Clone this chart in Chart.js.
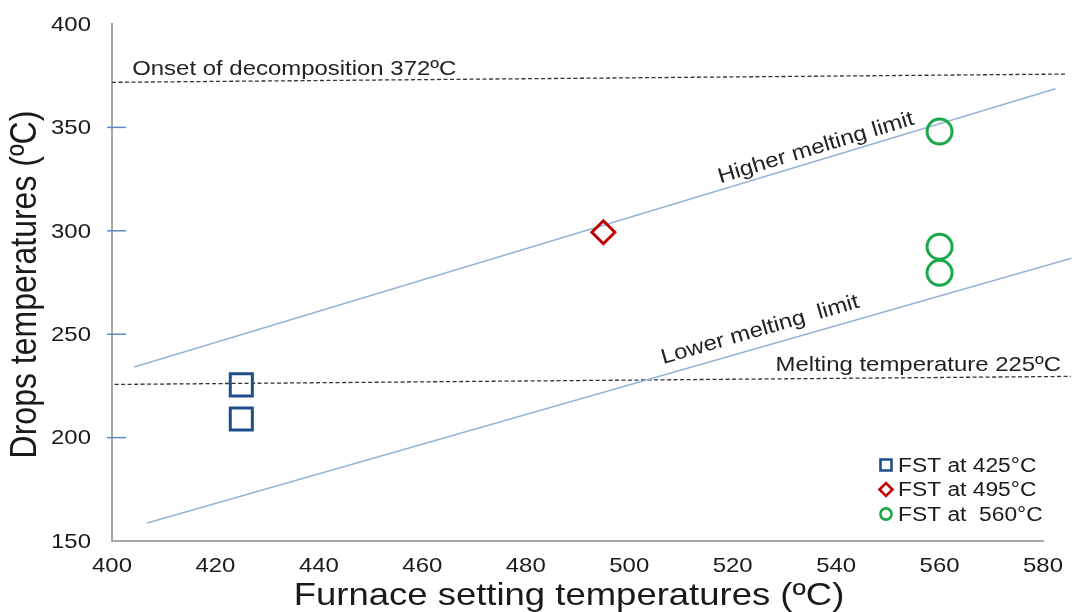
<!DOCTYPE html>
<html>
<head>
<meta charset="utf-8">
<script src="https://cdn.jsdelivr.net/npm/chart.js@4.4.1/dist/chart.umd.min.js"></script>
<style>
  html, body { margin: 0; padding: 0; background: #fff; }
  #wrap { width: 1076px; height: 612px; }
</style>
</head>
<body>
<div id="wrap"><canvas id="dropsChart" width="1076" height="612"></canvas></div>
<script>
// measured drops temperatures per furnace setting
const fst425X = [425, 425];
const fst425Y = [225.5, 209];
const fst495X = [495];
const fst495Y = [299.3];
const fst560X = [560, 560, 560];
const fst560Y = [348, 292.3, 279.7];

// melting limit lines and reference lines
const higherLimitX = [404.3, 582.4];
const higherLimitY = [234.1, 368.7];
const lowerLimitX = [406.8, 585.5];
const lowerLimitY = [158.7, 286.7];
const onsetX = [400, 584.5];
const onsetY = [371.8, 375.8];
const meltX = [400.5, 585.4];
const meltY = [225.7, 229.6];

const xTickMin = 400, xTickMax = 580, xTickStep = 20;
const yTickMin = 150, yTickMax = 400, yTickStep = 50;

const legendLabels = ['FST at 425°C', 'FST at 495°C', 'FST at  560°C'];

const pts = (xs, ys) => xs.map((x, i) => ({ x: x, y: ys[i] }));
const FONT = '"Liberation Sans", Arial, sans-serif';
const HS = 1.14;   // the original text is a little wide
const INK = '#1a1a1a';

function wideText(ctx, text, x, y, align, size, angle) {
    ctx.save();
    ctx.translate(x, y);
    if (angle) ctx.rotate(angle * Math.PI / 180);
    ctx.scale(HS, 1);
    ctx.font = size + 'px ' + FONT;
    ctx.textAlign = align;
    ctx.fillText(text, 0, 0);
    ctx.restore();
}

const lineStyle = {
    showLine: true, pointRadius: 0, borderColor: '#95b3d7', borderWidth: 1.6, clip: false
};
const dashStyle = {
    showLine: true, pointRadius: 0, borderColor: '#333', borderWidth: 1.3, borderDash: [4, 2.5], clip: false
};

// tick labels, axis titles and the small blue tick marks on the y axis
const axisText = {
    id: 'axisText',
    afterDraw(chart) {
        const ctx = chart.ctx, xs = chart.scales.x, ys = chart.scales.y, area = chart.chartArea;
        ctx.save();
        ctx.strokeStyle = '#5b8bc7';
        ctx.lineWidth = 1.5;
        ys.ticks.forEach(t => {
            if (t.value === yTickMin || t.value === yTickMax) return;
            const py = ys.getPixelForValue(t.value);
            ctx.beginPath();
            ctx.moveTo(area.left - 5, py);
            ctx.lineTo(area.left + 14, py);
            ctx.stroke();
        });
        ctx.fillStyle = INK;
        ctx.textBaseline = 'middle';
        ys.ticks.forEach(t => {
            wideText(ctx, String(t.value), area.left - 21, ys.getPixelForValue(t.value) + 1, 'right', 21);
        });
        xs.ticks.forEach(t => {
            wideText(ctx, String(t.value), xs.getPixelForValue(t.value), 566, 'center', 21);
        });
        ctx.textBaseline = 'alphabetic';
        wideText(ctx, 'Furnace setting temperatures (ºC)', 569, 605, 'center', 32);
        ctx.save();
        ctx.translate(36, (area.top + area.bottom) / 2 + 2);
        ctx.rotate(-Math.PI / 2);
        ctx.scale(1, HS);
        ctx.font = '32px ' + FONT;
        ctx.textAlign = 'center';
        ctx.fillText('Drops temperatures (ºC)', 0, 0);
        ctx.restore();
        ctx.restore();
    }
};

// text labels sitting on the chart, plus the legend
const notes = {
    id: 'notes',
    afterDatasetsDraw(chart) {
        const ctx = chart.ctx, xs = chart.scales.x, ys = chart.scales.y;
        ctx.save();
        ctx.fillStyle = '#222';
        ctx.textBaseline = 'alphabetic';
        wideText(ctx, 'Onset of decomposition 372ºC', xs.getPixelForValue(403.9), ys.getPixelForValue(375.3), 'left', 21);
        wideText(ctx, 'Melting temperature 225ºC', xs.getPixelForValue(528.3), ys.getPixelForValue(232.1), 'left', 21);
        ctx.textBaseline = 'middle';
        wideText(ctx, 'Higher melting limit', xs.getPixelForValue(536.1), ys.getPixelForValue(340), 'center', 21, -16.85);
        wideText(ctx, 'Lower melting  limit', xs.getPixelForValue(525.3), ys.getPixelForValue(252), 'center', 21, -16.1);

        // legend, bottom right inside the plot
        const lx = 886, ly0 = 465, step = 24.5;
        const sizes = { rect: 7.8, rectRot: 6.5, circle: 5.6 };
        chart.data.datasets.slice(0, 3).forEach((ds, i) => {
            const yy = ly0 + i * step;
            ctx.strokeStyle = ds.borderColor;
            ctx.fillStyle = 'rgba(0,0,0,0)';
            ctx.lineWidth = 2.6;
            Chart.helpers.drawPoint(ctx, {
                pointStyle: ds.pointStyle, radius: sizes[ds.pointStyle], borderWidth: 2.6
            }, lx, yy);
            ctx.fillStyle = INK;
            ctx.textBaseline = 'middle';
            wideText(ctx, legendLabels[i], lx + 12, yy + 1, 'left', 20);
        });
        ctx.restore();
    }
};

new Chart(document.getElementById('dropsChart'), {
    type: 'scatter',
    data: {
        datasets: [
            { label: legendLabels[0], data: pts(fst425X, fst425Y), pointStyle: 'rect', pointRadius: 15.6,
              borderColor: '#1f4e8c', backgroundColor: 'rgba(0,0,0,0)', borderWidth: 3, pointHoverRadius: 15.6 },
            { label: legendLabels[1], data: pts(fst495X, fst495Y), pointStyle: 'rectRot', pointRadius: 11.5,
              borderColor: '#c00000', backgroundColor: 'rgba(0,0,0,0)', borderWidth: 3, pointHoverRadius: 11.5 },
            { label: legendLabels[2], data: pts(fst560X, fst560Y), pointStyle: 'circle', pointRadius: 12.5,
              borderColor: '#1aa84a', backgroundColor: 'rgba(0,0,0,0)', borderWidth: 3, pointHoverRadius: 12.5 },
            Object.assign({ label: 'Higher melting limit', data: pts(higherLimitX, higherLimitY) }, lineStyle),
            Object.assign({ label: 'Lower melting limit', data: pts(lowerLimitX, lowerLimitY) }, lineStyle),
            Object.assign({ label: 'Onset of decomposition', data: pts(onsetX, onsetY) }, dashStyle),
            Object.assign({ label: 'Melting temperature', data: pts(meltX, meltY) }, dashStyle)
        ]
    },
    options: {
        responsive: false,
        animation: false,
        layout: { padding: { top: 24, right: 33, left: 0, bottom: 0 } },
        plugins: { legend: { display: false }, tooltip: { enabled: false } },
        scales: {
            x: {
                type: 'linear', min: xTickMin, max: xTickMax,
                afterFit: s => { s.height = 71; },
                border: { color: '#a6a6a6', width: 2 },
                grid: { display: false, drawTicks: false },
                ticks: { stepSize: xTickStep, display: false }
            },
            y: {
                type: 'linear', min: yTickMin, max: yTickMax,
                afterFit: s => { s.width = 112; },
                border: { color: '#a6a6a6', width: 2 },
                grid: { display: false, drawTicks: false },
                ticks: { stepSize: yTickStep, display: false }
            }
        }
    },
    plugins: [axisText, notes]
});
</script>
</body>
</html>
